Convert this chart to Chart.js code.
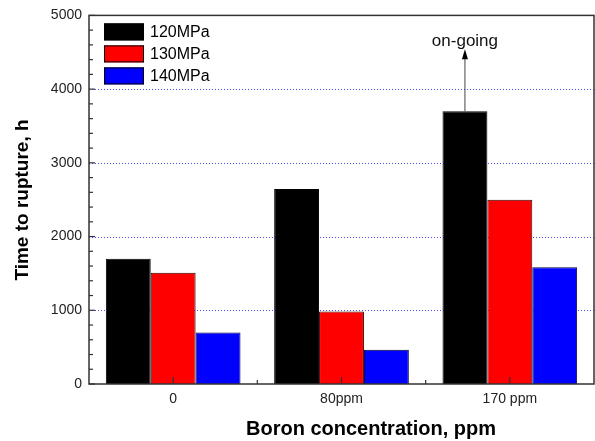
<!DOCTYPE html>
<html><head><meta charset="utf-8">
<script src="https://cdn.jsdelivr.net/npm/chart.js@4"></script>
<style>html,body{margin:0;padding:0;background:#fff}#w{width:595px;height:441px}</style>
</head><body><div id="w"><canvas id="c" width="595" height="441"></canvas></div>
<script>
const categories = ["0", "80ppm", "170 ppm"];
const series120 = [1700, 2645, 3700];
const series130 = [1510, 985, 2500];
const series140 = [700, 465, 1585];
const seriesNames = ["120MPa", "130MPa", "140MPa"];
const yTicks = [0, 1000, 2000, 3000, 4000, 5000];

const FONT = "'Liberation Sans', Arial, sans-serif";

const deco = {
  id: 'deco',
  beforeDatasetsDraw(chart) {
    const ctx = chart.ctx, y = chart.scales.y, a = chart.chartArea;
    ctx.save();
    ctx.strokeStyle = '#4a4aff';
    ctx.lineWidth = 1;
    ctx.setLineDash([1, 2]);
    [1000, 2000, 3000, 4000].forEach(v => {
      const py = Math.round(y.getPixelForValue(v)) + 0.5;
      ctx.beginPath(); ctx.moveTo(a.left, py); ctx.lineTo(a.right, py); ctx.stroke();
    });
    ctx.restore();
  },
  afterDatasetsDraw(chart) {
    const ctx = chart.ctx, x = chart.scales.x, y = chart.scales.y, a = chart.chartArea;
    ctx.save();
    ctx.strokeStyle = '#333';
    ctx.lineWidth = 1.5;
    ctx.strokeRect(a.left, a.top, a.right - a.left, a.bottom - a.top);
    ctx.lineWidth = 1.2;
    for (let v = 0; v <= 5000; v += 200) {
      const py = y.getPixelForValue(v);
      const len = (v % 1000 === 0) ? 6 : 4;
      ctx.beginPath(); ctx.moveTo(a.left, py); ctx.lineTo(a.left + len, py); ctx.stroke();
    }
    categories.forEach((c, i) => {
      const px = x.getPixelForValue(i);
      ctx.beginPath(); ctx.moveTo(px, a.bottom); ctx.lineTo(px, a.bottom - 7); ctx.stroke();
      if (i < categories.length - 1) {
        const mx = (px + x.getPixelForValue(i + 1)) / 2;
        ctx.beginPath(); ctx.moveTo(mx, a.bottom); ctx.lineTo(mx, a.bottom - 4); ctx.stroke();
      }
    });
    const bar = chart.getDatasetMeta(0).data[2];
    const ax = bar.x, ay0 = bar.y, ay1 = y.getPixelForValue(4540);
    ctx.strokeStyle = '#444'; ctx.fillStyle = '#000'; ctx.lineWidth = 1;
    ctx.beginPath(); ctx.moveTo(ax, ay0); ctx.lineTo(ax, ay1 + 8); ctx.stroke();
    ctx.beginPath(); ctx.moveTo(ax, ay1); ctx.lineTo(ax - 3, ay1 + 10); ctx.lineTo(ax + 3, ay1 + 10); ctx.closePath(); ctx.fill();
    ctx.fillStyle = '#111';
    ctx.font = '17px ' + FONT;
    ctx.textAlign = 'center'; ctx.textBaseline = 'alphabetic';
    ctx.fillText('on-going', ax, ay1 - 3);
    ctx.font = 'bold 20px ' + FONT;
    ctx.fillStyle = '#000';
    ctx.textBaseline = 'middle';
    ctx.fillText('Boron concentration, ppm', 371, 429);
    ctx.font = 'bold 19px ' + FONT;
    ctx.translate(23, 200);
    ctx.rotate(-Math.PI / 2);
    ctx.fillText('Time to rupture, h', 0, 0);
    ctx.restore();
  },
  afterDraw(chart) {
    const ctx = chart.ctx, a = chart.chartArea;
    const cols = ['#000000', '#ff0000', '#0000ff'];
    ctx.save();
    ctx.font = '16px ' + FONT;
    ctx.textBaseline = 'middle';
    ctx.textAlign = 'left';
    chart.data.datasets.forEach((d, i) => {
      const top = a.top + 8 + i * 22;
      ctx.fillStyle = cols[i];
      ctx.fillRect(a.left + 15, top, 40, 17);
      ctx.strokeStyle = '#000'; ctx.lineWidth = 1;
      ctx.strokeRect(a.left + 15.5, top + 0.5, 39, 16);
      ctx.fillStyle = '#000';
      ctx.fillText(d.label, a.left + 61, top + 9);
    });
    ctx.restore();
  }
};

const mk = (label, data, bg, border) => ({
  label, data, backgroundColor: bg, borderColor: border, borderWidth: 1,
  categoryPercentage: 0.8, barPercentage: 1.0
});

new Chart(document.getElementById('c'), {
  type: 'bar',
  data: {
    labels: categories,
    datasets: [
      mk(seriesNames[0], series120, '#000000', '#000000'),
      mk(seriesNames[1], series130, '#ff0000', '#330000'),
      mk(seriesNames[2], series140, '#0000ff', '#000033')
    ]
  },
  plugins: [deco],
  options: {
    responsive: false,
    animation: false,
    devicePixelRatio: 1,
    layout: { padding: { top: 13, right: 1, left: 0, bottom: 0 } },
    plugins: {
      legend: { display: false },
      tooltip: { enabled: false }
    },
    scales: {
      x: {
        grid: { display: false, drawTicks: false },
        border: { display: false },
        ticks: { font: { family: FONT, size: 14 }, color: '#222', padding: 7 },
        afterFit(s) { s.height = 57; }
      },
      y: {
        min: 0, max: 5000,
        afterBuildTicks(s) { s.ticks = yTicks.map(v => ({ value: v })); },
        grid: { display: false, drawTicks: false },
        border: { display: false },
        ticks: { font: { family: FONT, size: 14 }, color: '#222', padding: 7,
                 callback: v => String(v) },
        afterFit(s) { s.width = 89; }
      }
    }
  }
});
</script>
</body></html>
